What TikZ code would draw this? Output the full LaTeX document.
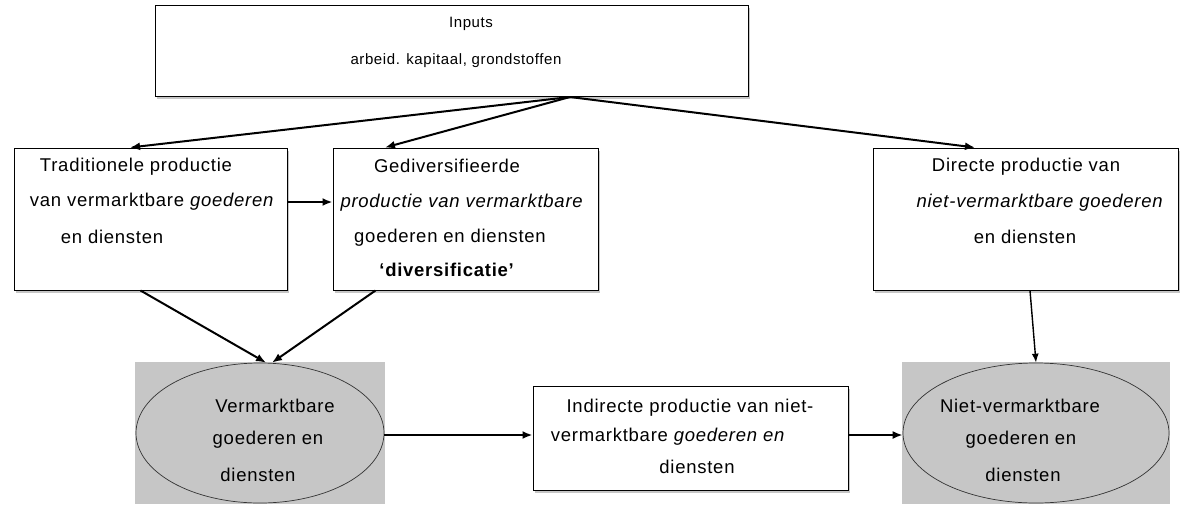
\documentclass[tikz,border=0pt]{standalone}
\usepackage{fontspec}
\setmainfont{Liberation Sans}[LetterSpace=4]
\usetikzlibrary{shadows,arrows.meta,shapes.geometric}
\begin{document}
\begin{tikzpicture}[x=1pt,y=-1pt,
  boxstyle/.style={draw=black,line width=1pt,fill=white,inner sep=0pt,
    drop shadow={shadow xshift=1.5pt,shadow yshift=-2.5pt,fill=gray!45,opacity=1}},
  bgstyle/.style={fill=gray!45,draw=none,inner sep=0pt},
  ellstyle/.style={ellipse,draw=black!80,line width=0.7pt,fill=gray!45,inner sep=0pt},
  txt/.style={font=\fontsize{18.5}{20}\selectfont,inner sep=0pt,anchor=center},
  toptxt/.style={font=\fontsize{15}{17}\selectfont,inner sep=0pt,anchor=center},
  arr/.style={draw=black,line width=2pt,-{Latex[length=10pt,width=8pt]}},
  arrthin/.style={draw=black,line width=1.4pt,-{Latex[length=9pt,width=7pt]}}
]
\useasboundingbox (0,0) rectangle (1191,504);
% boxes
\node[boxstyle,minimum width=593pt,minimum height=91pt] (top) at (451.5,50.5) {};
\node[boxstyle,minimum width=273pt,minimum height=142pt] (trad) at (150.5,219) {};
\node[boxstyle,minimum width=265pt,minimum height=142pt] (gediv) at (465.5,219) {};
\node[boxstyle,minimum width=305pt,minimum height=142pt] (direct) at (1025.5,219) {};
\node[boxstyle,minimum width=315pt,minimum height=104pt] (mid) at (690.5,438) {};
\node[bgstyle,minimum width=250pt,minimum height=142pt] (lbg) at (260,433) {};
\node[bgstyle,minimum width=268pt,minimum height=142pt] (rbg) at (1036,433) {};
\node[ellstyle,minimum width=248pt,minimum height=140pt] (lell) at (260,433) {};
\node[ellstyle,minimum width=266pt,minimum height=140pt] (rell) at (1036,433) {};
% texts
\node[toptxt] (t1) at (471,24) {Inputs};
\node[toptxt] (t2) at (456,61) {arbeid. kapitaal, grondstoffen};
\node[txt] (a1) at (136,167) {Traditionele productie};
\node[txt] (a2) at (152,202) {van vermarktbare \textit{goederen}};
\node[txt] (a3) at (112,237) {en diensten};
\node[txt] (b1) at (447,166) {Gediversifieerde};
\node[txt] (b2) at (462,203) {\textit{productie van vermarktbare}};
\node[txt] (b3) at (450,238) {goederen en diensten};
\node[txt] (b4) at (447,270) {\textbf{‘diversificatie’}};
\node[txt] (c1) at (1026,167) {Directe productie van};
\node[txt] (c2) at (1040,203) {\textit{niet-vermarktbare goederen}};
\node[txt] (c3) at (1025,237) {en diensten};
\node[txt] (d1) at (275,406) {Vermarktbare};
\node[txt] (d2) at (268,440) {goederen en};
\node[txt] (d3) at (258,475) {diensten};
\node[txt] (e1) at (690,408) {Indirecte productie van niet-};
\node[txt] (e2) at (668,437) {vermarktbare \textit{goederen en}};
\node[txt] (e3) at (697,467) {diensten};
\node[txt] (f1) at (1020,406) {Niet-vermarktbare};
\node[txt] (f2) at (1021,440) {goederen en};
\node[txt] (f3) at (1023,475) {diensten};
% connectors
\coordinate (topout) at (570,97);
\draw[arr] (topout) -- ([xshift=-20.5pt]trad.north);
\draw[arr] (topout) -- ([xshift=-80.5pt]gediv.north);
\draw[arr] (topout) -- ([xshift=-50.5pt]direct.north);
\draw[arr] ([yshift=17pt]trad.east) -- ([yshift=17pt]gediv.west);
\draw[arr] ([xshift=-10pt]trad.south) -- ([xshift=6pt]lell.north);
\draw[arr] ([xshift=-90pt]gediv.south) -- ([xshift=12pt]lell.north);
\draw[arrthin] ([xshift=4.5pt]direct.south) -- (rell.north);
\draw[arr] ([yshift=-2pt]lell.east) -- ([yshift=-2pt]lell.east -| mid.west);
\draw[arr] ([yshift=3pt]mid.east) -- ([yshift=3pt]mid.east -| rell.west);
\end{tikzpicture}
\end{document}
